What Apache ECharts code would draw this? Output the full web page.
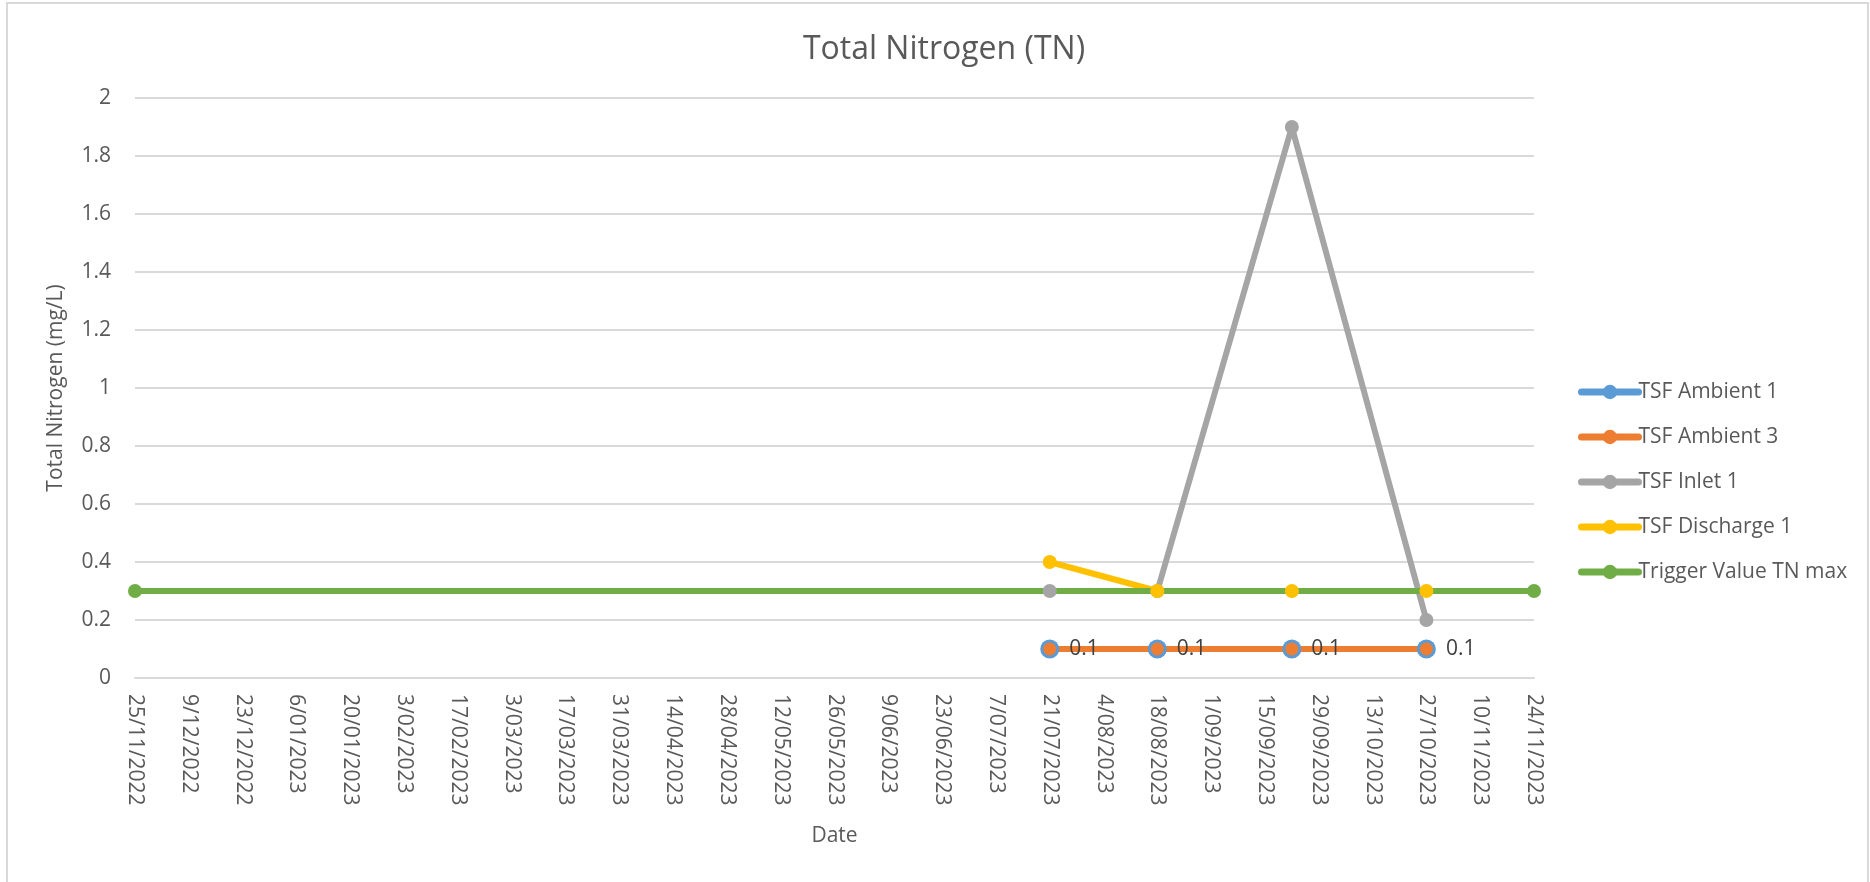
<!DOCTYPE html>
<html>
<head>
<meta charset="utf-8">
<script src="https://cdn.jsdelivr.net/npm/echarts@6/dist/echarts.min.js"></script>
<style>
  html, body { margin: 0; padding: 0; background: #fff; }
  #chart { width: 1870px; height: 882px; }
</style>
</head>
<body>
<div id="chart"></div>
<script>
// ---- data ----
const axisStartDate = '2022-11-25';
const axisEndDate = '2023-11-24';
const tickStepDays = 14;
const yTickValues = [0, 0.2, 0.4, 0.6, 0.8, 1, 1.2, 1.4, 1.6, 1.8, 2];

const sampleDates = ['2023-07-21', '2023-08-18', '2023-09-22', '2023-10-27'];
const ambient1 = [0.1, 0.1, 0.1, 0.1];
const ambient3 = [0.1, 0.1, 0.1, 0.1];
const inlet1 = [0.3, 0.3, 1.9, 0.2];
const discharge1 = [0.4, 0.3, 0.3, 0.3];

const triggerDates = ['2022-11-25', '2023-11-24'];
const triggerValues = [0.3, 0.3];

const seriesNames = ['TSF Ambient 1', 'TSF Ambient 3', 'TSF Inlet 1', 'TSF Discharge 1', 'Trigger Value TN max'];
const seriesColors = ['#5B9BD5', '#ED7D31', '#A5A5A5', '#FFC000', '#70AD47'];

// ---- helpers ----
const DAY = 86400000;
function toUTC(s) { const p = s.split('-').map(Number); return Date.UTC(p[0], p[1] - 1, p[2]); }
const startMs = toUTC(axisStartDate);
function dayOffset(s) { return Math.round((toUTC(s) - startMs) / DAY); }
function fmtDay(v) {
  const d = new Date(startMs + v * DAY);
  const mm = String(d.getUTCMonth() + 1).padStart(2, '0');
  return d.getUTCDate() + '/' + mm + '/' + d.getUTCFullYear();
}
function pairs(dates, vals) { return dates.map((d, i) => [dayOffset(d), vals[i]]); }

const FONT = '"Open Sans", "Noto Sans", sans-serif';
const TXT = '#595959';
const FS = 21;

const chart = echarts.init(document.getElementById('chart'), null, { renderer: 'canvas' });

function lineSeries(idx, data, symbolSize, extra) {
  return Object.assign({
    name: seriesNames[idx],
    type: 'line',
    data: data,
    symbol: 'circle',
    symbolSize: symbolSize,
    showAllSymbol: true,
    color: seriesColors[idx],
    lineStyle: { width: 6, color: seriesColors[idx], cap: 'round', join: 'round' },
    itemStyle: { color: seriesColors[idx] },
    emphasis: { disabled: true },
    animation: false
  }, extra || {});
}

const option = {
  backgroundColor: '#ffffff',
  animation: false,
  textStyle: { fontFamily: FONT },
  graphic: [{
    type: 'rect',
    shape: { x: 7, y: 3, width: 1861, height: 900 },
    style: { fill: 'none', stroke: '#D9D9D9', lineWidth: 2 },
    silent: true
  }],
  title: {
    text: 'Total Nitrogen (TN)',
    left: 939,
    top: 29,
    textAlign: 'center',
    textStyle: { fontFamily: FONT, fontSize: 32, fontWeight: 'normal', color: TXT }
  },
  legend: {
    orient: 'vertical',
    left: 1573,
    top: 376,
    itemWidth: 57,
    itemHeight: 18,
    itemGap: 23,
    data: seriesNames,
    lineStyle: { width: 7, cap: 'round' },
    textStyle: { fontFamily: FONT, fontSize: FS, color: TXT, lineHeight: 22, padding: [0, 0, 0, -5] }
  },
  grid: { left: 135, right: 336, top: 98, bottom: 204, containLabel: false },
  xAxis: {
    type: 'value',
    min: 0,
    max: dayOffset(axisEndDate),
    interval: tickStepDays,
    name: 'Date',
    nameLocation: 'middle',
    nameGap: 148,
    nameTextStyle: { fontFamily: FONT, fontSize: FS, color: TXT },
    axisLine: { show: true, lineStyle: { color: '#D9D9D9', width: 2 } },
    axisTick: { show: false },
    splitLine: { show: false },
    axisLabel: {
      rotate: -90,
      margin: 16,
      fontFamily: FONT,
      fontSize: FS,
      color: TXT,
      formatter: v => fmtDay(v)
    }
  },
  yAxis: {
    type: 'value',
    min: yTickValues[0],
    max: yTickValues[yTickValues.length - 1],
    interval: 0.2,
    name: 'Total Nitrogen (mg/L)',
    nameLocation: 'middle',
    nameGap: 68,
    nameTextStyle: { fontFamily: FONT, fontSize: FS, color: TXT },
    axisLine: { show: false },
    axisTick: { show: false },
    splitLine: { show: true, lineStyle: { color: '#D9D9D9', width: 2 } },
    axisLabel: {
      margin: 24,
      fontFamily: FONT,
      fontSize: FS,
      color: TXT,
      formatter: v => String(Math.round(v * 10) / 10)
    }
  },
  series: [
    lineSeries(0, pairs(sampleDates, ambient1), 19),
    lineSeries(1, pairs(sampleDates, ambient3), 13, {
      label: {
        show: true,
        position: 'right',
        distance: 13,
        fontFamily: FONT,
        fontSize: FS,
        color: '#404040',
        formatter: p => String(p.value[1])
      }
    }),
    lineSeries(2, pairs(sampleDates, inlet1), 14),
    lineSeries(3, pairs(sampleDates, discharge1), 14),
    lineSeries(4, pairs(triggerDates, triggerValues), 14)
  ]
};

chart.setOption(option);
</script>
</body>
</html>
